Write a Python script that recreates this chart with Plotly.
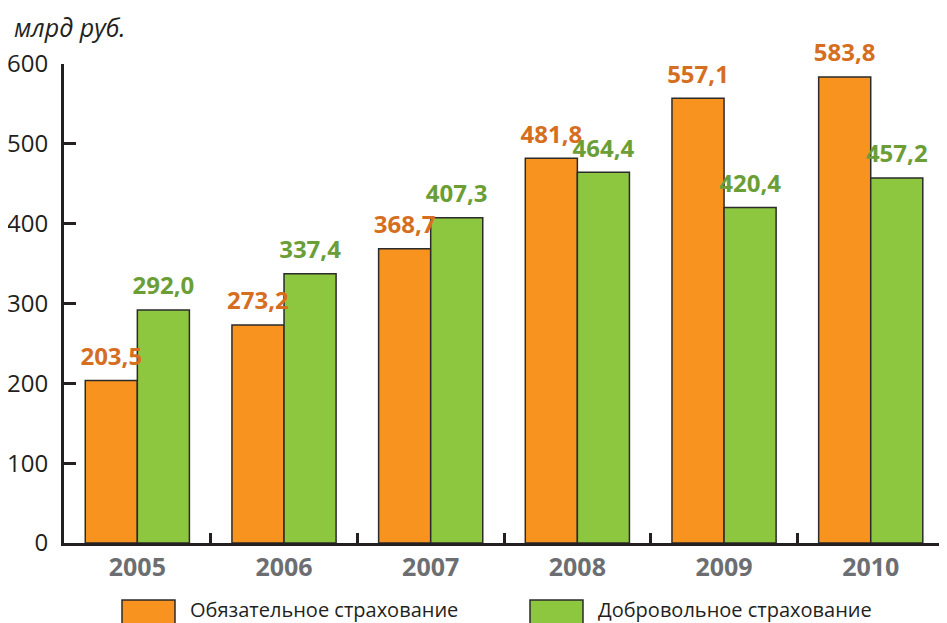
import plotly.graph_objects as go

years = ["2005", "2006", "2007", "2008", "2009", "2010"]
mandatory = [203.5, 273.2, 368.7, 481.8, 557.1, 583.8]
voluntary = [292.0, 337.4, 407.3, 464.4, 420.4, 457.2]
names = ["Обязательное страхование", "Добровольное страхование"]
y_ticks = [0, 100, 200, 300, 400, 500, 600]

ORANGE = "#F7931E"
GREEN = "#8DC63F"
ORANGE_TXT = "#D56E1E"
GREEN_TXT = "#6B9E36"
FONT = "Open Sans"

fig = go.Figure()
for vals, name, col, tcol, grp in [(mandatory, names[0], ORANGE, ORANGE_TXT, "a"),
                                   (voluntary, names[1], GREEN, GREEN_TXT, "b")]:
    fig.add_trace(go.Bar(
        x=years, y=vals, name=name, offsetgroup=grp,
        marker=dict(color=col, line=dict(color="#2B2B2B", width=1.5)),
        showlegend=False,
    ))
    fig.add_trace(go.Scatter(
        x=years, y=vals, offsetgroup=grp, mode="markers+text",
        text=[f"{v:.1f}".replace(".", ",") for v in vals],
        textposition="top center",
        marker=dict(size=14, color="rgba(0,0,0,0)"),
        textfont=dict(family=FONT, size=24, color=tcol, weight="bold"),
        cliponaxis=False, showlegend=False, hoverinfo="skip",
    ))

fig.update_layout(
    width=939, height=615,
    margin=dict(l=56, r=0, t=56, b=80),
    paper_bgcolor="white", plot_bgcolor="white",
    barmode="group", bargap=0.29, bargroupgap=0,
    scattermode="group", scattergap=0.29,
    font=dict(family=FONT, color="#231F20"),
)
fig.update_xaxes(
    type="category", showline=True, linecolor="#231F20", linewidth=3,
    ticks="inside", tickson="boundaries", ticklen=10, tickwidth=3, tickcolor="#231F20",
    tickfont=dict(family=FONT, size=25, color="#6D6E71", weight="bold"),
    showgrid=False, zeroline=False, range=[-0.5, 5.52],
)
fig.update_yaxes(
    range=[0, 600], tickvals=y_ticks, showline=True, linecolor="#231F20", linewidth=3,
    ticks="inside", ticklen=12, tickwidth=3, tickcolor="#231F20",
    tickfont=dict(family=FONT, size=24, color="#231F20"),
    showgrid=False, zeroline=False, ticklabelstandoff=8,
)

pw = 939 - 56
ph = 615 - 56 - 80
fig.add_annotation(text="<i>млрд руб.</i>", xref="paper", yref="paper",
                   x=(12 - 64) / pw, y=(543 - 8) / ph,
                   xanchor="left", yanchor="top", showarrow=False,
                   font=dict(family=FONT, size=25, color="#231F20"))

# legend drawn at the bottom
leg = [(122, names[0], ORANGE), (530, names[1], GREEN)]
for px, name, col in leg:
    fig.add_shape(type="rect", xref="paper", yref="paper",
                  x0=(px - 64) / pw, x1=(px + 53 - 64) / pw,
                  y0=(543 - 626) / ph, y1=(543 - 600) / ph,
                  fillcolor=col, line=dict(color="#2B2B2B", width=1.5))
    fig.add_annotation(text=name, xref="paper", yref="paper",
                       x=(px + 66 - 64) / pw, y=(543 - 609) / ph,
                       xanchor="left", yanchor="middle", showarrow=False,
                       font=dict(family=FONT, size=20, color="#231F20"))

fig.write_html("out.html")
